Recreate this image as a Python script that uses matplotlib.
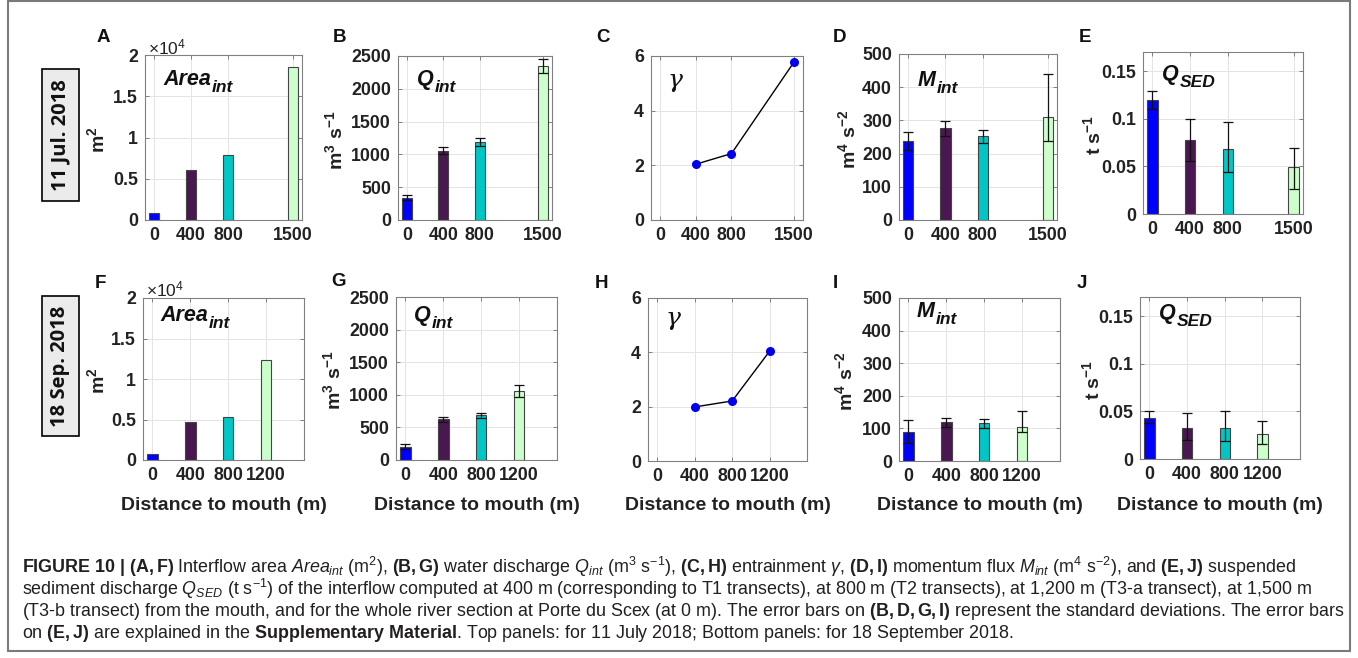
import matplotlib
matplotlib.use("Agg")
import matplotlib.pyplot as plt
from matplotlib.patches import Rectangle

# ---------------------------------------------------------------- data
dist_jul = [0, 400, 800, 1500]
dist_sep = [0, 400, 800, 1200]
gamma_dist_jul = [400, 800, 1500]
gamma_dist_sep = [400, 800, 1200]

# interflow area (m2)
area_jul = [850, 6100, 7900, 18500]
area_sep = [780, 4640, 5340, 12320]

# water discharge (m3/s) and standard deviation
q_jul = [340, 1055, 1190, 2350]
q_jul_sd = [35, 55, 65, 105]
q_sep = [205, 626, 683, 1057]
q_sep_sd = [35, 40, 45, 88]

# entrainment
gamma_jul = [2.04, 2.43, 5.78]
gamma_sep = [1.99, 2.21, 4.04]

# momentum flux (m4/s2) with lower / upper error limits
m_jul = [238, 276, 253, 310]
m_jul_lo = [211, 252, 231, 238]
m_jul_hi = [265, 299, 272, 440]
m_sep = [89, 119, 116, 105]
m_sep_lo = [55, 104, 102, 90]
m_sep_hi = [125, 133, 129, 152]

# suspended sediment discharge (t/s) with lower / upper error limits
qsed_jul = [0.120, 0.078, 0.068, 0.049]
qsed_jul_lo = [0.110, 0.056, 0.044, 0.026]
qsed_jul_hi = [0.129, 0.0995, 0.0964, 0.069]
qsed_sep = [0.0435, 0.0324, 0.0324, 0.0261]
qsed_sep_lo = [0.038, 0.0195, 0.0188, 0.016]
qsed_sep_hi = [0.0508, 0.0484, 0.050, 0.0397]

bar_colors = ["#0000ff", "#4a1850", "#00c6c6", "#ccffcc"]

# ---------------------------------------------------------------- style
plt.rcParams["font.family"] = ["Liberation Sans", "DejaVu Sans"]
plt.rcParams["mathtext.fontset"] = "custom"
plt.rcParams["mathtext.rm"] = "Liberation Sans"
plt.rcParams["mathtext.it"] = "Liberation Sans:italic"
plt.rcParams["mathtext.bf"] = "Liberation Sans:bold"
plt.rcParams["mathtext.bfit"] = "Liberation Sans:bold:italic"
plt.rcParams["mathtext.default"] = "regular"

W, H = 1358, 658
fig = plt.figure(figsize=(W / 100, H / 100), dpi=100)
fig.patch.set_facecolor("white")


def fx(x):
    return x / W


def fy(y):
    return 1 - y / H


def add_axes(l, t, r, b):
    return fig.add_axes([fx(l), fy(b), (r - l) / W, (b - t) / H])


def text(x, y, s, **kw):
    return fig.text(fx(x), fy(y), s, **kw)


TICK_FS = 12.8
SPINE = "#808080"


def style_axes(ax, xticks, ylim, yticks, yticklabels):
    ax.set_xlim(-100, 1600)
    ax.set_ylim(*ylim)
    ax.set_xticks(xticks)
    ax.set_xticklabels([str(v) for v in xticks], fontweight="bold",
                       fontsize=TICK_FS)
    ax.set_yticks(yticks)
    ax.set_yticklabels(yticklabels, fontweight="bold", fontsize=TICK_FS)
    ax.grid(True, color="#e4e4e4", lw=0.7)
    ax.set_axisbelow(True)
    for sp in ax.spines.values():
        sp.set_color(SPINE)
        sp.set_linewidth(0.8)
    ax.tick_params(direction="in", length=3, width=0.7, top=True,
                   right=True, color=SPINE, labelcolor="#222222", pad=5)


def bars(ax, x, h, lo=None, hi=None, sd=None):
    ax.bar(x, h, width=110, color=bar_colors, edgecolor="#444444",
           linewidth=0.8, zorder=2)
    if sd is not None:
        yerr = [sd, sd]
    elif lo is not None:
        yerr = [[v - l for v, l in zip(h, lo)], [u - v for v, u in zip(h, hi)]]
    else:
        return
    ax.errorbar(x, h, yerr=yerr, fmt="none", ecolor="#111111",
                elinewidth=0.9, capsize=3.6, capthick=0.9, zorder=3)


def line(ax, x, y):
    ax.plot(x, y, color="black", lw=1.0, zorder=2)
    ax.plot(x, y, "o", color="#0000ee", markersize=5.5, zorder=3)


# quantity names with a separately placed (larger, lower) subscript
subscripted = []


def panel_title(x, y, main, sub, fs=15.5, sfs=12.5, drop=7):
    t = text(x, y, main, fontsize=fs, fontweight="bold", fontstyle="italic",
             ha="left", va="baseline", color="#111111")
    subscripted.append((t, sub, y + drop, sfs))


def ylabel(x, y, s):
    text(x, y, s, rotation=90, fontsize=14, fontweight="bold",
         ha="center", va="center", color="#222222")


rows = [
    dict(dist=dist_jul, gdist=gamma_dist_jul, area=area_jul, q=q_jul,
         qsd=q_jul_sd, gam=gamma_jul, m=m_jul, mlo=m_jul_lo, mhi=m_jul_hi,
         qs=qsed_jul, qslo=qsed_jul_lo, qshi=qsed_jul_hi,
         boxes=[(145, 55, 302, 220), (398, 56, 552, 220),
                (651, 56, 803, 220), (899, 54, 1057, 220),
                (1143, 52, 1303, 214)],
         letters="ABCDE",
         letter_pos=[(103, 38), (339, 38), (603, 38), (839, 38), (1085, 38)],
         title_y=[85, 85, 80, 86, 80],
         title_x=[163, 417, 668, 918, 1162],
         ylab_x=[97, 335, None, 848, 1093],
         xlabel=False, date="11 Jul. 2018", date_box=(42, 69, 79, 201),
         offset_y=47),
    dict(dist=dist_sep, gdist=gamma_dist_sep, area=area_sep, q=q_sep,
         qsd=q_sep_sd, gam=gamma_sep, m=m_sep, mlo=m_sep_lo, mhi=m_sep_hi,
         qs=qsed_sep, qslo=qsed_sep_lo, qshi=qsed_sep_hi,
         boxes=[(143, 298, 304, 460), (396, 297, 557, 460),
                (648, 298, 807, 461), (899, 298, 1060, 461),
                (1140, 297, 1300, 459)],
         letters="FGHIJ",
         letter_pos=[(100, 283), (339, 282), (602, 283), (835, 283),
                     (1082, 283)],
         title_y=[321, 321, 318, 317, 319],
         title_x=[160, 414, 666, 917, 1159],
         ylab_x=[97, 333, None, 845, 1092],
         xlabel=True, date="18 Sep. 2018", date_box=(42, 296, 79, 436),
         offset_y=289),
]

for r in rows:
    axs = [add_axes(*b) for b in r["boxes"]]
    a, b, c, d, e = axs

    bars(a, r["dist"], r["area"])
    style_axes(a, r["dist"], (0, 20000), [0, 5000, 10000, 15000, 20000],
               ["0", "0.5", "1", "1.5", "2"])

    bars(b, r["dist"], r["q"], sd=r["qsd"])
    style_axes(b, r["dist"], (0, 2500), list(range(0, 2501, 500)),
               [str(v) for v in range(0, 2501, 500)])

    line(c, r["gdist"], r["gam"])
    style_axes(c, r["dist"], (0, 6), [0, 2, 4, 6], ["0", "2", "4", "6"])

    bars(d, r["dist"], r["m"], lo=r["mlo"], hi=r["mhi"])
    style_axes(d, r["dist"], (0, 500), list(range(0, 501, 100)),
               [str(v) for v in range(0, 501, 100)])

    bars(e, r["dist"], r["qs"], lo=r["qslo"], hi=r["qshi"])
    style_axes(e, r["dist"], (0, 0.17), [0, 0.05, 0.1, 0.15],
               ["0", "0.05", "0.1", "0.15"])

    # panel letters
    for L, (lx, ly) in zip(r["letters"], r["letter_pos"]):
        text(lx, ly, L, fontsize=13.5, fontweight="bold", ha="center",
             va="center", color="#111111")

    # in-panel quantity names
    tx, ty = r["title_x"], r["title_y"]
    panel_title(tx[0], ty[0], "Area", "int")
    panel_title(tx[1], ty[1], "Q", "int")
    text(tx[2], ty[2], "\u03b3", fontsize=18, ha="left", va="center",
         fontstyle="italic", family=["DejaVu Serif"], color="#111111")
    panel_title(tx[3], ty[3], "M", "int")
    panel_title(tx[4], ty[4], "Q", "SED")

    # y-axis units
    units = [r"m$^2$", r"m$^3$ s$^{-1}$", None, r"m$^4$ s$^{-2}$",
             r"t s$^{-1}$"]
    for k, u in enumerate(units):
        if u is None:
            continue
        l, t, rr, bb = r["boxes"][k]
        ylabel(r["ylab_x"][k], (t + bb) / 2 + 2, u)

    # scale factor of the area axis
    text(r["boxes"][0][0] + 3, r["offset_y"], r"$\times$10$^4$",
         fontsize=12.5, ha="left", va="center", color="#222222")

    # date box
    x0, y0, x1, y1 = r["date_box"]
    fig.add_artist(Rectangle((fx(x0), fy(y1)), (x1 - x0) / W, (y1 - y0) / H,
                             transform=fig.transFigure, facecolor="#ebebeb",
                             edgecolor="black", linewidth=1.2))
    text((x0 + x1) / 2, (y0 + y1) / 2, r["date"], rotation=90,
         fontsize=14.5, fontweight="bold", ha="center", va="center",
         family=["Open Sans", "DejaVu Sans"], color="#111111")

    if r["xlabel"]:
        for (l, t, rr, bb) in r["boxes"]:
            text((l + rr) / 2, 505, "Distance to mouth (m)", fontsize=14,
                 fontweight="bold", ha="center", va="center",
                 color="#222222")

# ---------------------------------------------------------------- caption
caption = [
    r"$\mathbf{FIGURE\ 10\ |\ (A,F)}$ Interflow area "
    r"$\mathit{Area}_{\mathit{int}}$ (m$^2$), $\mathbf{(B,G)}$ water discharge "
    r"$\mathit{Q}_{\mathit{int}}$ (m$^3$ s$^{-1}$), $\mathbf{(C,H)}$ entrainment "
    r"$\mathit{\gamma}$, $\mathbf{(D,I)}$ momentum flux "
    r"$\mathit{M}_{\mathit{int}}$ (m$^4$ s$^{-2}$), and $\mathbf{(E,J)}$ suspended",
    r"sediment discharge $\mathit{Q}_{\mathit{SED}}$ (t s$^{-1}$) of the "
    r"interflow computed at 400 m (corresponding to T1 transects), at 800 m "
    r"(T2 transects), at 1,200 m (T3-a transect), at 1,500 m",
    r"(T3-b transect) from the mouth, and for the whole river section at "
    r"Porte du Scex (at 0 m). The error bars on $\mathbf{(B,D,G,I)}$ represent "
    r"the standard deviations. The error bars",
    r"on $\mathbf{(E,J)}$ are explained in the "
    r"$\mathbf{Supplementary\ Material}$. Top panels: for 11 July 2018; "
    r"Bottom panels: for 18 September 2018.",
]
CAP_FS = 11.3
cap_texts = [text(22, 567 + 22 * k, s, fontsize=CAP_FS, ha="left",
                  va="center", color="#231f20")
             for k, s in enumerate(caption)]

# outer frame
fig.add_artist(Rectangle((fx(8), fy(651)), (1350 - 8) / W, (651 - 1) / H,
                         transform=fig.transFigure, fill=False,
                         edgecolor="#7a7a7a", linewidth=1.5))

# second pass: size the caption to the frame width and attach subscripts
fig.canvas.draw()
renderer = fig.canvas.get_renderer()
bb = cap_texts[0].get_window_extent(renderer)
scale = (1298 - 22) / bb.width
for t in cap_texts:
    t.set_fontsize(CAP_FS * scale)

for t, sub, ysub, sfs in subscripted:
    ext = t.get_window_extent(renderer)
    fig.text((ext.x1 + 1) / W, fy(ysub), sub, fontsize=sfs,
             fontweight="bold", fontstyle="italic", ha="left",
             va="baseline", color="#111111")

fig.savefig("out.png", dpi=100)
